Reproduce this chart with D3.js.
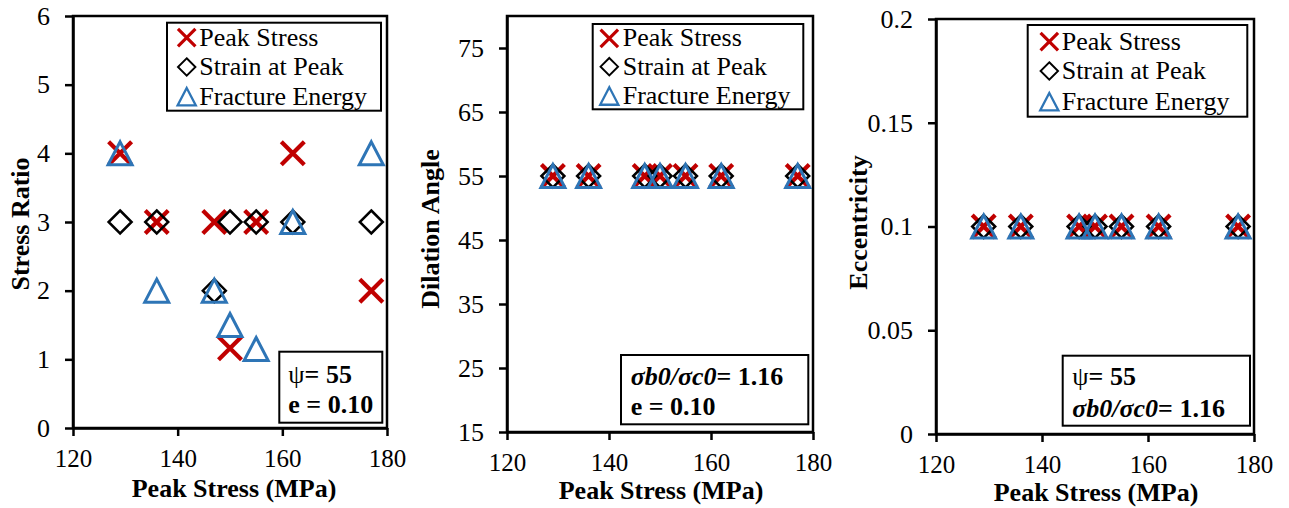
<!DOCTYPE html>
<html>
<head>
<meta charset="utf-8">
<script src="https://cdn.jsdelivr.net/npm/d3@7"></script>
<style>
  body { margin: 0; background: #fff; }
  svg { display: block; font-family: "Liberation Serif", "Times New Roman", serif; }
  .axis text { font-size: 26px; fill: #000; font-family: "Liberation Serif", "Times New Roman", serif; }
  .axis.x text { font-size: 25px; }
  .axis line, .axis path { stroke: #000; stroke-width: 2.5; }
  .axis-label { font-size: 26px; font-weight: bold; }
  .legend text { font-size: 26px; }
  .note text { font-size: 26px; }
</style>
</head>
<body>
<div id="chart"></div>
<script>
const width = 1289, height = 508;

// data
const peakStress = [129, 136, 147, 150, 155, 162, 177];
const seriesNames = ["Peak Stress", "Strain at Peak", "Fracture Energy"];

const stressRatioPeak = [4, 3, 3, 1.16, 3, 4, 2];
const stressRatioStrain = [3, 3, 2, 3, 3, 3, 3];
const stressRatioFracture = [4, 2, 2, 1.5, 1.15, 3, 4];

const dilationPeak = [55, 55, 55, 55, 55, 55, 55];
const dilationStrain = [55, 55, 55, 55, 55, 55, 55];
const dilationFracture = [55, 55, 55, 55, 55, 55, 55];

const eccPeak = [0.1, 0.1, 0.1, 0.1, 0.1, 0.1, 0.1];
const eccStrain = [0.1, 0.1, 0.1, 0.1, 0.1, 0.1, 0.1];
const eccFracture = [0.1, 0.1, 0.1, 0.1, 0.1, 0.1, 0.1];

const xTicks = [120, 140, 160, 180];
const stressRatioTicks = [0, 1, 2, 3, 4, 5, 6];
const dilationTicks = [15, 25, 35, 45, 55, 65, 75];
const eccTicks = [0, 0.05, 0.1, 0.15, 0.2];

const red = "#C00000", blue = "#2E75B6";

// marker shapes
function drawMarker(g, type, s) {
  if (type === 0) {
    const h = 11.5 * s;
    g.append("path")
      .attr("d", `M${-h},${-h}L${h},${h}M${-h},${h}L${h},${-h}`)
      .attr("stroke", red).attr("stroke-width", 4.2 * s).attr("fill", "none");
  } else if (type === 1) {
    const h = 11.5 * s;
    g.append("path")
      .attr("d", `M0,${-h}L${h},0L0,${h}L${-h},0Z`)
      .attr("stroke", "#000").attr("stroke-width", 2.5 * s).attr("fill", "none");
  } else {
    const h = 11.5 * s, w = 12 * s;
    g.append("path")
      .attr("d", `M0,${-h}L${w},${h}L${-w},${h}Z`)
      .attr("stroke", blue).attr("stroke-width", 3 * s).attr("fill", "none")
      .attr("stroke-linejoin", "miter");
  }
}

const panels = [
  {
    plot: { x0: 73, x1: 387, y0: 16, y1: 428 },
    yDomain: [0, 6], yTicks: stressRatioTicks,
    series: [stressRatioPeak, stressRatioStrain, stressRatioFracture],
    yTitle: "Stress Ratio", yTitlePos: [29, 224],
    xTitlePos: [234, 497],
    legend: { x: 167, y: 22.7, w: 214, h: 88, mx: 186.7, tx: 199.3, rows: [37.7, 67, 96.7] },
    note: { x: 279.3, y: 351.7, w: 103, h: 71, tx: 288.3, lines: [383, 413] },
    noteLines: [["psi"], ["e"]]
  },
  {
    plot: { x0: 507, x1: 813, y0: 16, y1: 432 },
    yDomain: [15, 80], yTicks: dilationTicks,
    series: [dilationPeak, dilationStrain, dilationFracture],
    yTitle: "Dilation Angle", yTitlePos: [438.5, 229],
    xTitlePos: [661, 499],
    legend: { x: 592.7, y: 24, w: 210.6, h: 85.3, mx: 609.3, tx: 622.7, rows: [38.3, 66.7, 96] },
    note: { x: 621, y: 355, w: 187.3, h: 69.3, tx: 630.7, lines: [385, 415] },
    noteLines: [["sigma"], ["e"]]
  },
  {
    plot: { x0: 936, x1: 1254, y0: 19, y1: 434 },
    yDomain: [0, 0.2], yTicks: eccTicks,
    series: [eccPeak, eccStrain, eccFracture],
    yTitle: "Eccentricity", yTitlePos: [867, 222.5],
    xTitlePos: [1096, 501],
    legend: { x: 1027.7, y: 25, w: 219.6, h: 91.7, mx: 1049.3, tx: 1061.7, rows: [41.7, 71, 101.7] },
    note: { x: 1062.7, y: 355.7, w: 187.3, h: 70, tx: 1072.3, lines: [385, 416.7] },
    noteLines: [["psi"], ["sigma"]]
  }
];

const svg = d3.select("#chart")
  .append("svg")
  .attr("width", width)
  .attr("height", height)
  .attr("viewBox", `0 0 ${width} ${height}`);

function writeNoteLine(text, kind) {
  if (kind === "psi") {
    text.append("tspan").text("ψ");
    text.append("tspan").attr("font-weight", "bold").text("= 55");
  } else if (kind === "sigma") {
    text.append("tspan").attr("font-weight", "bold").attr("font-style", "italic").text("σb0/σc0");
    text.append("tspan").attr("font-weight", "bold").text("= 1.16");
  } else {
    text.append("tspan").attr("font-weight", "bold").text("e = 0.10");
  }
}

panels.forEach(p => {
  const xScale = d3.scaleLinear().domain([120, 180]).range([p.plot.x0, p.plot.x1]);
  const yScale = d3.scaleLinear().domain(p.yDomain).range([p.plot.y1, p.plot.y0]);

  const g = svg.append("g");

  g.append("g")
    .attr("class", "axis x")
    .attr("transform", `translate(0,${p.plot.y1})`)
    .call(d3.axisBottom(xScale).tickValues(xTicks).tickSize(8).tickSizeOuter(0).tickPadding(13))
    .attr("font-family", null).attr("font-size", null);

  g.append("g")
    .attr("class", "axis")
    .attr("transform", `translate(${p.plot.x0},0)`)
    .call(d3.axisLeft(yScale).tickValues(p.yTicks).tickSize(8).tickSizeOuter(0).tickPadding(15)
      .tickFormat(d => String(d)))
    .attr("font-family", null).attr("font-size", null);

  g.append("rect")
    .attr("x", p.plot.x0).attr("y", p.plot.y0)
    .attr("width", p.plot.x1 - p.plot.x0).attr("height", p.plot.y1 - p.plot.y0)
    .attr("fill", "none").attr("stroke", "#000").attr("stroke-width", 2.5);

  // points
  p.series.forEach((vals, si) => {
    g.append("g").selectAll("g")
      .data(vals.map((v, i) => [peakStress[i], v]))
      .join("g")
      .attr("transform", d => `translate(${xScale(d[0])},${yScale(d[1])})`)
      .each(function () { drawMarker(d3.select(this), si, 1); });
  });

  // legend
  const lg = g.append("g").attr("class", "legend");
  lg.append("rect")
    .attr("x", p.legend.x).attr("y", p.legend.y)
    .attr("width", p.legend.w).attr("height", p.legend.h)
    .attr("fill", "#fff").attr("stroke", "#000").attr("stroke-width", 2);
  seriesNames.forEach((name, si) => {
    const row = p.legend.rows[si];
    drawMarker(lg.append("g").attr("transform", `translate(${p.legend.mx},${row})`), si, 0.76);
    lg.append("text")
      .attr("x", p.legend.tx).attr("y", row + 8)
      .text(name);
  });

  // note box
  const ng = g.append("g").attr("class", "note");
  ng.append("rect")
    .attr("x", p.note.x).attr("y", p.note.y)
    .attr("width", p.note.w).attr("height", p.note.h)
    .attr("fill", "#fff").attr("stroke", "#000").attr("stroke-width", 2);
  p.noteLines.forEach((line, li) => {
    const t = ng.append("text").attr("x", p.note.tx).attr("y", p.note.lines[li]);
    writeNoteLine(t, line[0]);
  });

  // axis titles
  g.append("text")
    .attr("class", "axis-label")
    .attr("text-anchor", "middle")
    .attr("x", p.xTitlePos[0])
    .attr("y", p.xTitlePos[1])
    .text("Peak Stress (MPa)");

  g.append("text")
    .attr("class", "axis-label")
    .attr("text-anchor", "middle")
    .attr("transform", `translate(${p.yTitlePos[0]},${p.yTitlePos[1]}) rotate(-90)`)
    .text(p.yTitle);
});
</script>
</body>
</html>
